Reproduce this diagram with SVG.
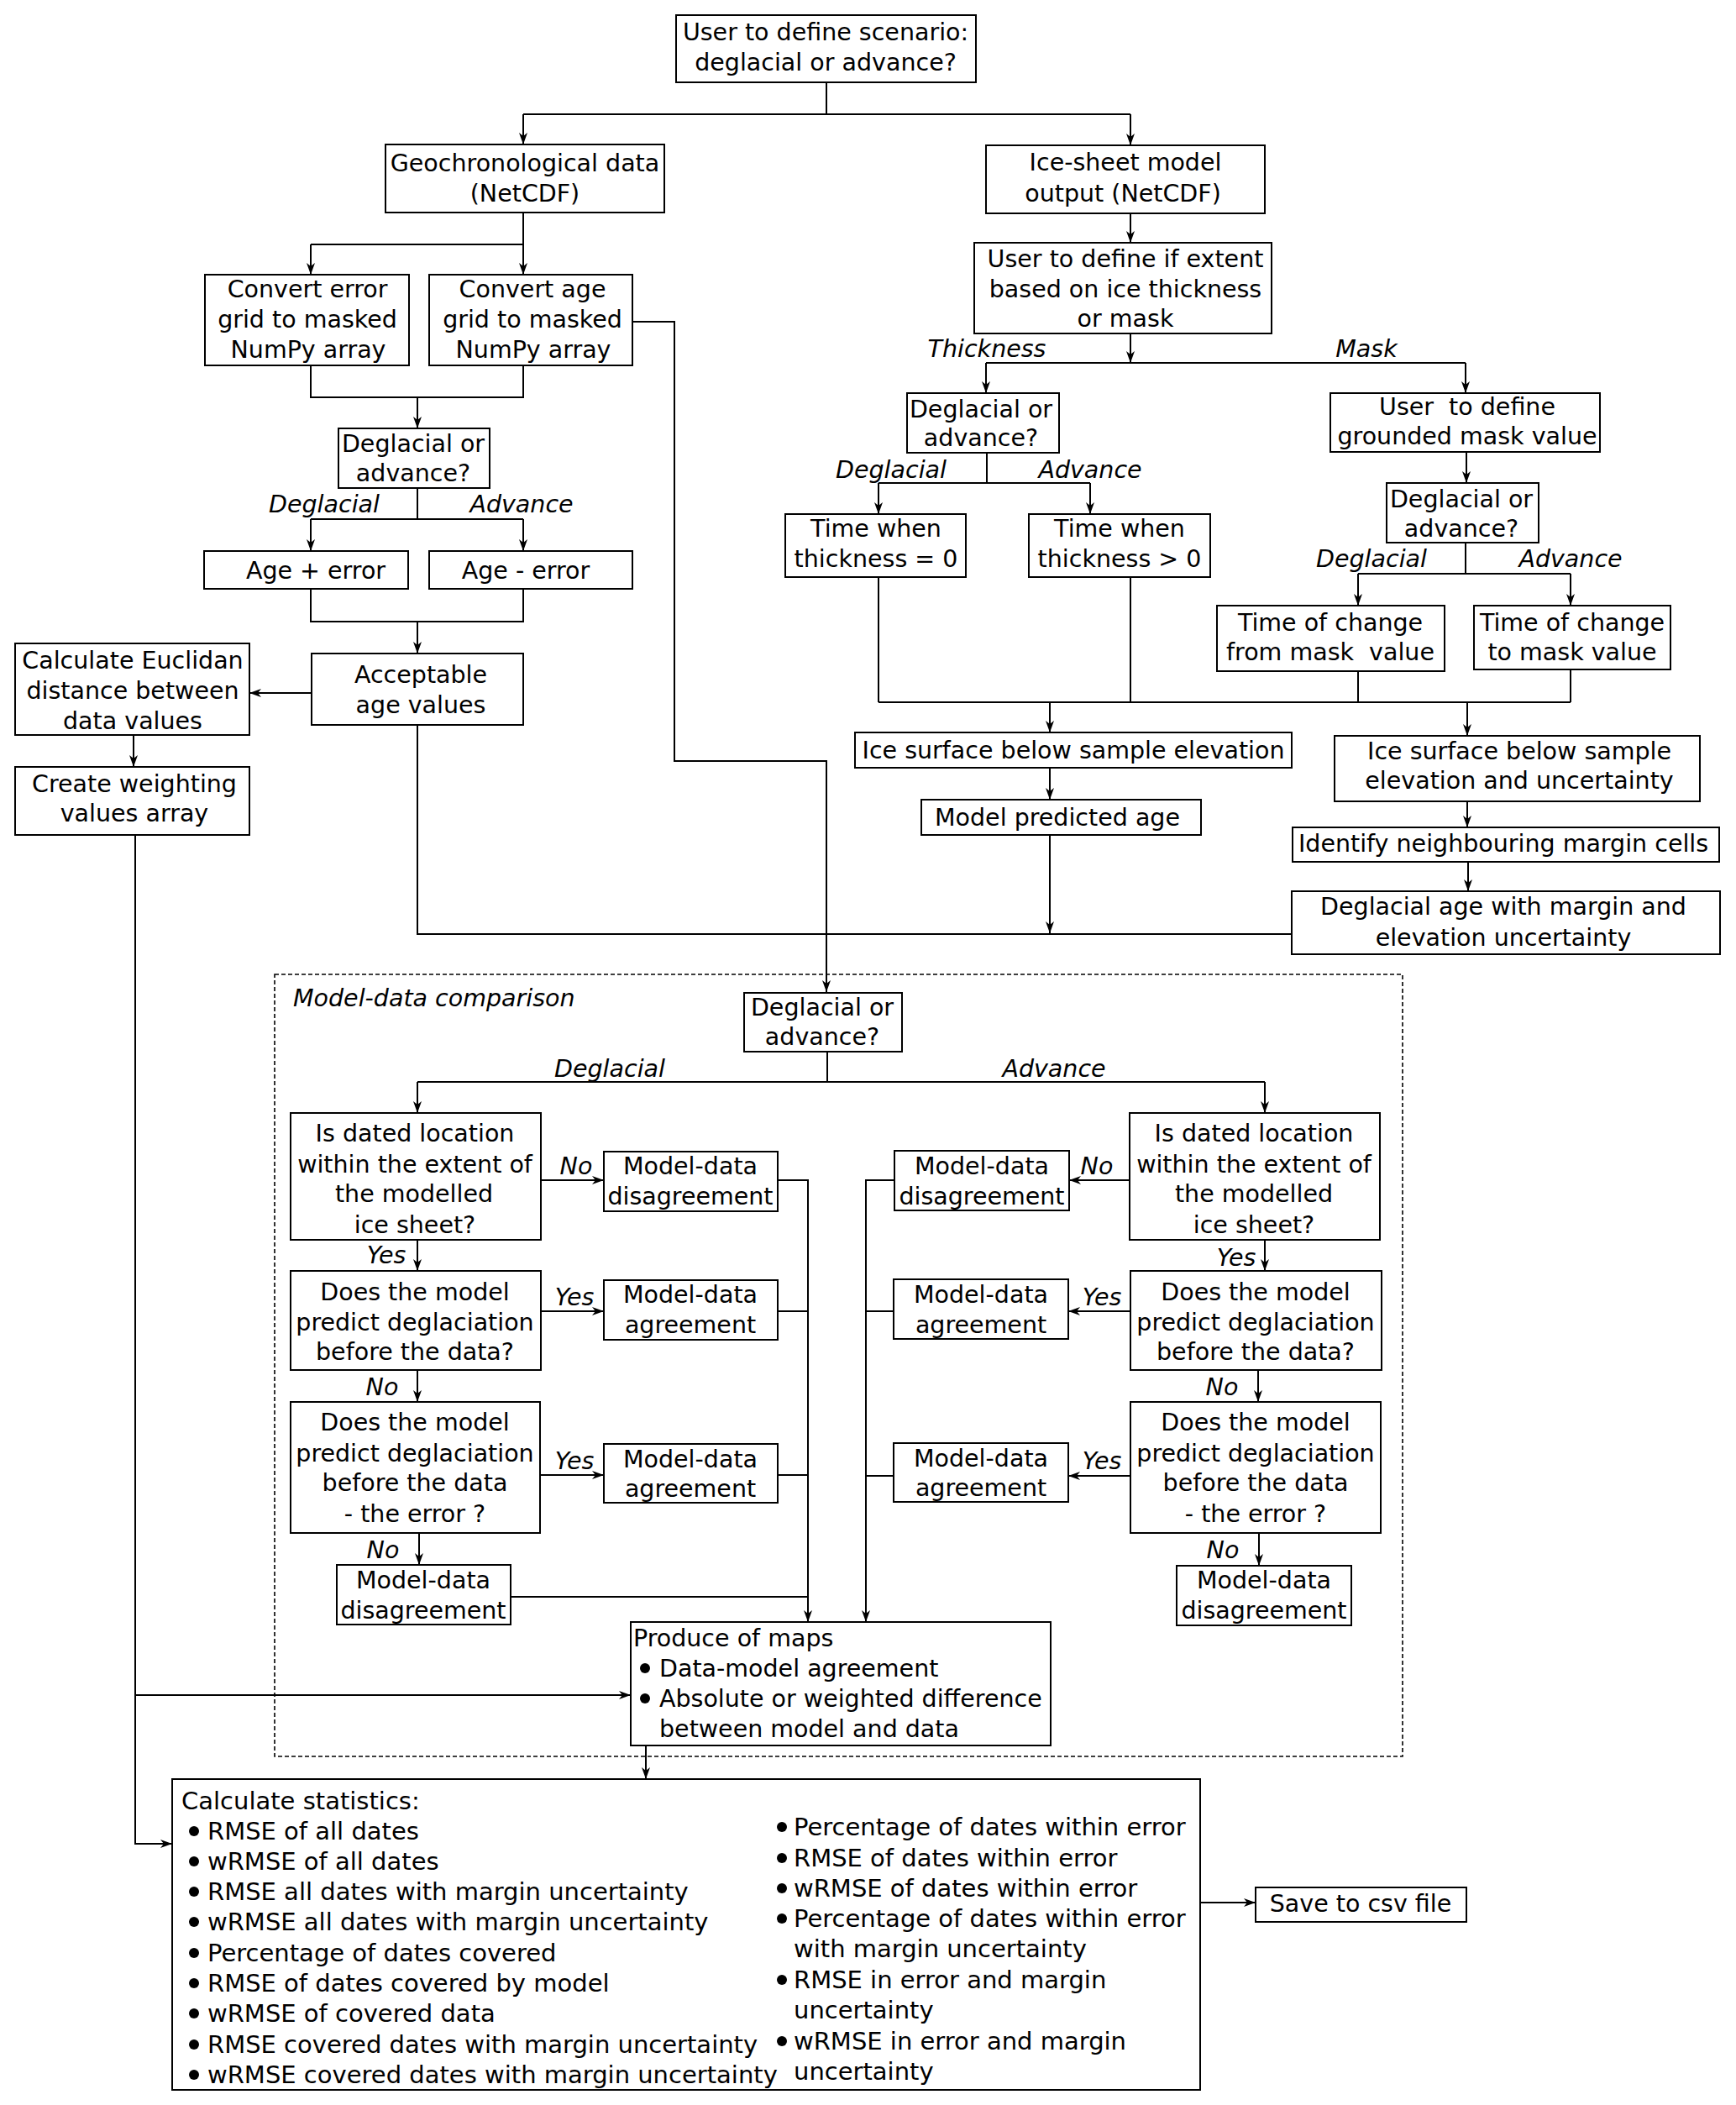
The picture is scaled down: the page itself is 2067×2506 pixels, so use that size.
<svg xmlns="http://www.w3.org/2000/svg" width="2067" height="2506" viewBox="0 0 2067 2506">
<style>
text{font-family:"DejaVu Sans","Liberation Sans",sans-serif;font-size:28.5px;fill:#000}
.t{text-anchor:middle}
.i{text-anchor:middle;font-style:italic}
.s{font-size:29px}
rect{fill:#fff;stroke:#000;stroke-width:2}
.c path{fill:none;stroke:#000;stroke-width:2}
.c path.a{marker-end:url(#arr)}
.dash{fill:none;stroke:#000;stroke-width:1.6;stroke-dasharray:5 3}
</style>
<defs>
<marker id="arr" viewBox="0 0 14 10" refX="14" refY="5" markerWidth="14" markerHeight="10" markerUnits="userSpaceOnUse" orient="auto"><path d="M0,0 L14,5 L0,10 L4,5 z" fill="#000"/></marker>
</defs>
<rect x="0" y="0" width="2067" height="2506" style="fill:#fff;stroke:none"/>

<g id="model-data-comparison">
<rect class="dash" x="327" y="1160" width="1343" height="931" style="fill:none"/>
<text x="349" y="1198" style="font-style:italic">Model-data comparison</text>
</g>

<g class="c" id="connectors">
<path d="M984,98 V136"/><path d="M623,136 H1346"/>
<path class="a" d="M623,136 V172"/><path class="a" d="M1346,136 V173"/>
<path d="M623,253 V291"/><path d="M370,291 H623"/>
<path class="a" d="M370,291 V327"/><path class="a" d="M623,291 V327"/>
<path class="a" d="M753,383 H803 V906 H984 V1181"/>
<path d="M370,435 V473 H623 V435"/><path class="a" d="M497,473 V510"/>
<path d="M497,581 V618"/><path d="M370,618 H623"/>
<path class="a" d="M370,618 V656"/><path class="a" d="M623,618 V656"/>
<path d="M370,701 V740 H623 V701"/><path class="a" d="M497,740 V778"/>
<path class="a" d="M371,825 H297"/>
<path class="a" d="M159,875 V913"/>
<path class="a" d="M161,994 V2195 H205"/>
<path class="a" d="M161,2018 H751"/>
<path d="M497,863 V1112 H1538"/>
<path class="a" d="M1250,994 V1111"/>
<path class="a" d="M1346,254 V289"/>
<path class="a" d="M1346,397 V432"/>
<path d="M1174,432 H1745"/>
<path class="a" d="M1174,432 V468"/><path class="a" d="M1745,432 V468"/>
<path d="M1175,539 V575"/><path d="M1046,575 H1298"/>
<path class="a" d="M1046,575 V612"/><path class="a" d="M1298,575 V612"/>
<path class="a" d="M1746,538 V575"/>
<path d="M1745,646 V683"/><path d="M1617,683 H1870"/>
<path class="a" d="M1617,683 V721"/><path class="a" d="M1870,683 V721"/>
<path d="M1046,687 V836"/><path d="M1346,687 V836"/><path d="M1617,799 V836"/><path d="M1870,797 V836"/>
<path d="M1046,836 H1870"/>
<path class="a" d="M1250,836 V872"/><path class="a" d="M1747,836 V876"/>
<path class="a" d="M1250,914 V952"/>
<path class="a" d="M1747,954 V985"/>
<path class="a" d="M1748,1026 V1061"/>
<path d="M985,1252 V1288"/><path d="M497,1288 H1506"/>
<path class="a" d="M497,1288 V1325"/><path class="a" d="M1506,1288 V1325"/>
<path class="a" d="M644,1405 H719"/>
<path class="a" d="M926,1405 H962 V1931"/>
<path class="a" d="M497,1476 V1513"/>
<path class="a" d="M644,1561 H719"/>
<path d="M926,1561 H962"/>
<path class="a" d="M497,1631 V1669"/>
<path class="a" d="M643,1756 H719"/>
<path d="M926,1756 H962"/>
<path class="a" d="M499,1825 V1863"/>
<path d="M608,1901 H962"/>
<path class="a" d="M1345,1405 H1273"/>
<path class="a" d="M1065,1405 H1031 V1931"/>
<path class="a" d="M1506,1476 V1513"/>
<path class="a" d="M1346,1561 H1272"/>
<path d="M1064,1561 H1031"/>
<path class="a" d="M1498,1631 V1669"/>
<path class="a" d="M1346,1757 H1272"/>
<path d="M1064,1757 H1031"/>
<path class="a" d="M1499,1825 V1864"/>
<path class="a" d="M769,2078 V2118"/>
<path class="a" d="M1429,2265 H1495"/>
</g>

<g id="labels">
<text class="i" x="386" y="610">Deglacial</text>
<text class="i" x="621" y="610">Advance</text>
<text class="i" x="1175" y="425">Thickness</text>
<text class="i" x="1627" y="425">Mask</text>
<text class="i" x="1061" y="569">Deglacial</text>
<text class="i" x="1298" y="569">Advance</text>
<text class="i" x="1633" y="675">Deglacial</text>
<text class="i" x="1870" y="675">Advance</text>
<text class="i" x="726" y="1282">Deglacial</text>
<text class="i" x="1255" y="1282">Advance</text>
<text class="i" x="686" y="1398">No</text>
<text class="i" x="460" y="1504">Yes</text>
<text class="i" x="684" y="1554">Yes</text>
<text class="i" x="455" y="1661">No</text>
<text class="i" x="684" y="1749">Yes</text>
<text class="i" x="456" y="1855">No</text>
<text class="i" x="1306" y="1398">No</text>
<text class="i" x="1472" y="1507">Yes</text>
<text class="i" x="1312" y="1554">Yes</text>
<text class="i" x="1455" y="1661">No</text>
<text class="i" x="1312" y="1749">Yes</text>
<text class="i" x="1456" y="1855">No</text>
</g>

<g id="n-scenario"><rect x="805" y="18" width="357" height="80"/>
<text class="t" x="983" y="48">User to define scenario:</text><text class="t" x="983" y="84">deglacial or advance?</text></g>

<g id="n-geochron"><rect x="459" y="172" width="332" height="81"/>
<text class="t" x="625" y="204">Geochronological data</text><text class="t" x="625" y="240">(NetCDF)</text></g>

<g id="n-icesheet"><rect x="1174" y="173" width="332" height="81"/>
<text class="t" x="1340" y="203">Ice-sheet model</text><text class="t" x="1337" y="240">output (NetCDF)</text></g>

<g id="n-conv-error"><rect x="244" y="327" width="243" height="108"/>
<text class="t" x="366" y="354">Convert error</text><text class="t" x="366" y="390">grid to masked</text><text class="t" x="367" y="426">NumPy array</text></g>

<g id="n-conv-age"><rect x="511" y="327" width="242" height="108"/>
<text class="t" x="634" y="354">Convert age</text><text class="t" x="634" y="390">grid to masked</text><text class="t" x="635" y="426">NumPy array</text></g>

<g id="n-da1"><rect x="403" y="510" width="180" height="71"/>
<text class="t" x="492" y="538">Deglacial or</text><text class="t" x="492" y="573">advance?</text></g>

<g id="n-age-plus"><rect x="243" y="656" width="243" height="45"/>
<text class="t" x="376" y="689">Age + error</text></g>

<g id="n-age-minus"><rect x="511" y="656" width="242" height="45"/>
<text class="t" x="626" y="689">Age - error</text></g>

<g id="n-acceptable"><rect x="371" y="778" width="252" height="85"/>
<text class="t" x="501" y="813">Acceptable</text><text class="t" x="501" y="849">age values</text></g>

<g id="n-euclid"><rect x="18" y="766" width="279" height="109"/>
<text class="t" x="158" y="796">Calculate Euclidan</text><text class="t" x="158" y="832">distance between</text><text class="t" x="158" y="868">data values</text></g>

<g id="n-weighting"><rect x="18" y="913" width="279" height="81"/>
<text class="t" x="160" y="943">Create weighting</text><text class="t" x="160" y="978">values array</text></g>

<g id="n-extent"><rect x="1160" y="289" width="354" height="108"/>
<text class="t" x="1340" y="318">User to define if extent</text><text class="t" x="1340" y="354">based on ice thickness</text><text class="t" x="1340" y="389">or mask</text></g>

<g id="n-da-thick"><rect x="1080" y="468" width="181" height="71"/>
<text class="t" x="1168" y="497">Deglacial or</text><text class="t" x="1168" y="531">advance?</text></g>

<g id="n-thick0"><rect x="935" y="612" width="215" height="75"/>
<text class="t" x="1043" y="639">Time when</text><text class="t" x="1043" y="675">thickness = 0</text></g>

<g id="n-thickgt0"><rect x="1225" y="612" width="216" height="75"/>
<text class="t" x="1333" y="639">Time when</text><text class="t" x="1333" y="675">thickness &gt; 0</text></g>

<g id="n-mask-value"><rect x="1584" y="468" width="321" height="70"/>
<text class="t" x="1747" y="494" xml:space="preserve">User  to define</text><text class="t" x="1747" y="529">grounded mask value</text></g>

<g id="n-da-mask"><rect x="1651" y="575" width="181" height="71"/>
<text class="t" x="1740" y="604">Deglacial or</text><text class="t" x="1740" y="639">advance?</text></g>

<g id="n-change-from"><rect x="1449" y="721" width="271" height="78"/>
<text class="t" x="1584" y="751">Time of change</text><text class="t" x="1584" y="786" xml:space="preserve">from mask  value</text></g>

<g id="n-change-to"><rect x="1755" y="721" width="234" height="76"/>
<text class="t" x="1872" y="751">Time of change</text><text class="t" x="1872" y="786">to mask value</text></g>

<g id="n-surface"><rect x="1018" y="872" width="520" height="42"/>
<text class="t" x="1278" y="903">Ice surface below sample elevation</text></g>

<g id="n-predicted"><rect x="1097" y="952" width="333" height="42"/>
<text class="t" x="1259" y="983">Model predicted age</text></g>

<g id="n-surface-unc"><rect x="1589" y="876" width="435" height="78"/>
<text class="t" x="1809" y="904">Ice surface below sample</text><text class="t" x="1809" y="939">elevation and uncertainty</text></g>

<g id="n-neighbour"><rect x="1539" y="985" width="508" height="41"/>
<text class="t" x="1790" y="1014">Identify neighbouring margin cells</text></g>

<g id="n-deglacial-age"><rect x="1538" y="1061" width="510" height="75"/>
<text class="t" x="1790" y="1089">Deglacial age with margin and</text><text class="t" x="1790" y="1126">elevation uncertainty</text></g>

<g id="n-da-md"><rect x="886" y="1182" width="188" height="70"/>
<text class="t" x="979" y="1209">Deglacial or</text><text class="t" x="979" y="1244">advance?</text></g>

<g id="n-L1"><rect x="346" y="1325" width="298" height="151"/>
<text class="t" x="494" y="1359">Is dated location</text><text class="t" x="494" y="1396">within the extent of</text><text class="t" x="493" y="1431">the modelled</text><text class="t" x="494" y="1468">ice sheet?</text></g>

<g id="n-L1r"><rect x="719" y="1371" width="207" height="71"/>
<text class="t" x="822" y="1398">Model-data</text><text class="t" x="822" y="1434">disagreement</text></g>

<g id="n-L2"><rect x="346" y="1513" width="298" height="118"/>
<text class="t" x="494" y="1548">Does the model</text><text class="t" x="494" y="1584">predict deglaciation</text><text class="t" x="494" y="1619">before the data?</text></g>

<g id="n-L2r"><rect x="719" y="1524" width="207" height="71"/>
<text class="t" x="822" y="1551">Model-data</text><text class="t" x="822" y="1587">agreement</text></g>

<g id="n-L3"><rect x="346" y="1669" width="297" height="156"/>
<text class="t" x="494" y="1703">Does the model</text><text class="t" x="494" y="1740">predict deglaciation</text><text class="t" x="494" y="1775">before the data</text><text class="t" x="494" y="1812">- the error ?</text></g>

<g id="n-L3r"><rect x="719" y="1719" width="207" height="70"/>
<text class="t" x="822" y="1747">Model-data</text><text class="t" x="822" y="1782">agreement</text></g>

<g id="n-L4"><rect x="401" y="1863" width="207" height="71"/>
<text class="t" x="504" y="1891">Model-data</text><text class="t" x="504" y="1927">disagreement</text></g>

<g id="n-R1"><rect x="1345" y="1325" width="298" height="151"/>
<text class="t" x="1493" y="1359">Is dated location</text><text class="t" x="1493" y="1396">within the extent of</text><text class="t" x="1493" y="1431">the modelled</text><text class="t" x="1493" y="1468">ice sheet?</text></g>

<g id="n-R1l"><rect x="1065" y="1370" width="208" height="71"/>
<text class="t" x="1169" y="1398">Model-data</text><text class="t" x="1169" y="1434">disagreement</text></g>

<g id="n-R2"><rect x="1346" y="1513" width="299" height="118"/>
<text class="t" x="1495" y="1548">Does the model</text><text class="t" x="1495" y="1584">predict deglaciation</text><text class="t" x="1495" y="1619">before the data?</text></g>

<g id="n-R2l"><rect x="1064" y="1523" width="208" height="71"/>
<text class="t" x="1168" y="1551">Model-data</text><text class="t" x="1168" y="1587">agreement</text></g>

<g id="n-R3"><rect x="1346" y="1669" width="298" height="156"/>
<text class="t" x="1495" y="1703">Does the model</text><text class="t" x="1495" y="1740">predict deglaciation</text><text class="t" x="1495" y="1775">before the data</text><text class="t" x="1495" y="1812">- the error ?</text></g>

<g id="n-R3l"><rect x="1064" y="1718" width="208" height="70"/>
<text class="t" x="1168" y="1746">Model-data</text><text class="t" x="1168" y="1781">agreement</text></g>

<g id="n-R4"><rect x="1401" y="1864" width="208" height="71"/>
<text class="t" x="1505" y="1891">Model-data</text><text class="t" x="1505" y="1927">disagreement</text></g>

<g id="n-maps"><rect x="751" y="1931" width="500" height="147"/>
<text x="754" y="1960">Produce of maps</text>
<circle cx="768" cy="1986" r="6"/><text x="785" y="1996">Data-model agreement</text>
<circle cx="768" cy="2022" r="6"/><text x="785" y="2032">Absolute or weighted difference</text>
<text x="785" y="2068">between model and data</text></g>

<g id="n-stats"><rect x="205" y="2118" width="1224" height="370"/>
<text class="s" x="216" y="2154">Calculate statistics:</text>
<circle cx="231" cy="2180" r="6"/><text class="s" x="247" y="2190">RMSE of all dates</text>
<circle cx="231" cy="2216" r="6"/><text class="s" x="247" y="2226">wRMSE of all dates</text>
<circle cx="231" cy="2252" r="6"/><text class="s" x="247" y="2262">RMSE all dates with margin uncertainty</text>
<circle cx="231" cy="2288" r="6"/><text class="s" x="247" y="2298">wRMSE all dates with margin uncertainty</text>
<circle cx="231" cy="2325" r="6"/><text class="s" x="247" y="2335">Percentage of dates covered</text>
<circle cx="231" cy="2361" r="6"/><text class="s" x="247" y="2371">RMSE of dates covered by model</text>
<circle cx="231" cy="2397" r="6"/><text class="s" x="247" y="2407">wRMSE of covered data</text>
<circle cx="231" cy="2434" r="6"/><text class="s" x="247" y="2444">RMSE covered dates with margin uncertainty</text>
<circle cx="231" cy="2470" r="6"/><text class="s" x="247" y="2480">wRMSE covered dates with margin uncertainty</text>
<circle cx="931" cy="2175" r="6"/><text class="s" x="945" y="2185">Percentage of dates within error</text>
<circle cx="931" cy="2212" r="6"/><text class="s" x="945" y="2222">RMSE of dates within error</text>
<circle cx="931" cy="2248" r="6"/><text class="s" x="945" y="2258">wRMSE of dates within error</text>
<circle cx="931" cy="2284" r="6"/><text class="s" x="945" y="2294">Percentage of dates within error</text>
<text class="s" x="945" y="2330">with margin uncertainty</text>
<circle cx="931" cy="2357" r="6"/><text class="s" x="945" y="2367">RMSE in error and margin</text>
<text class="s" x="945" y="2403">uncertainty</text>
<circle cx="931" cy="2430" r="6"/><text class="s" x="945" y="2440">wRMSE in error and margin</text>
<text class="s" x="945" y="2476">uncertainty</text></g>

<g id="n-csv"><rect x="1495" y="2247" width="251" height="41"/>
<text class="t" x="1620" y="2276">Save to csv file</text></g>
</svg>
